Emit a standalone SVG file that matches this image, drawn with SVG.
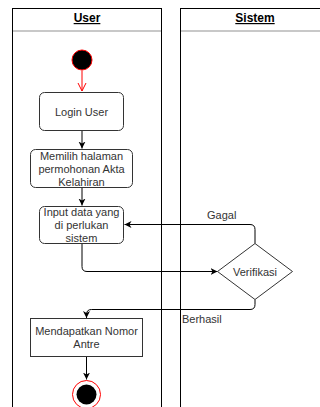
<svg xmlns="http://www.w3.org/2000/svg" width="320" height="407" viewBox="0 0 320 407">
<style>
.lane{fill:#fff;stroke:#000;stroke-width:1}
.hdr{stroke:#c8c8c8;stroke-width:2}
.title{font-family:"Liberation Sans",Arial,sans-serif;font-size:12px;font-weight:bold;fill:#000;text-decoration:underline;text-anchor:middle}
.box{fill:#fff;stroke:#333;stroke-width:1}
.t{font-family:"Liberation Sans",Arial,sans-serif;font-size:11px;fill:#333;text-anchor:middle}
.lbl{font-family:"Liberation Sans",Arial,sans-serif;font-size:11px;fill:#333}
.edge{fill:none;stroke:#000;stroke-width:1}
</style>
<defs>
<marker id="arr" markerWidth="8" markerHeight="8" refX="7" refY="4" orient="auto" markerUnits="userSpaceOnUse">
<path d="M0,0.5 L7,4 L0,7.5 L2,4 Z" fill="#000"/>
</marker>
</defs>
<g id="lane-user">
<rect class="lane" x="12.5" y="8.5" width="149" height="410"/>
<line class="hdr" x1="13" y1="31" x2="161" y2="31"/>
<text class="title" x="87" y="22">User</text>
</g>
<g id="lane-sistem">
<rect class="lane" x="180.5" y="8.5" width="149" height="410"/>
<line class="hdr" x1="181" y1="31" x2="329" y2="31"/>
<text class="title" x="255" y="22">Sistem</text>
</g>
<g id="connectors">
<line x1="82" y1="70.5" x2="82" y2="91" stroke="#f00" stroke-width="1"/>
<path d="M78,83 L82,91 L86,83" fill="none" stroke="#f00" stroke-width="1"/>
<line class="edge" x1="82" y1="130.5" x2="82" y2="148.5" marker-end="url(#arr)"/>
<line class="edge" x1="82" y1="187.5" x2="82" y2="205.5" marker-end="url(#arr)"/>
<path class="edge" d="M255,243.5 L255,229.5 Q255,224.5 250,224.5 L124.5,224.5" marker-end="url(#arr)"/>
<path class="edge" d="M82,243.5 L82,266.5 Q82,271.5 87,271.5 L217.5,271.5" marker-end="url(#arr)"/>
<path class="edge" d="M255,299.5 L255,304.5 Q255,309.5 250,309.5 L91.5,309.5 Q86.5,309.5 86.5,314.5 L86.5,318" marker-end="url(#arr)"/>
<line class="edge" x1="86.5" y1="356.5" x2="86.5" y2="379.5" marker-end="url(#arr)"/>
<text class="lbl" x="207" y="219">Gagal</text>
<text class="lbl" x="182" y="323">Berhasil</text>
</g>
<g id="start">
<circle cx="82" cy="60" r="10" fill="#000" stroke="#f00" stroke-width="1"/>
</g>
<g id="login">
<rect class="box" x="39.5" y="92.5" width="84" height="38" rx="5"/>
<text class="t" x="81.5" y="115.5">Login User</text>
</g>
<g id="memilih">
<rect class="box" x="30.5" y="149.5" width="102" height="38" rx="5"/>
<text class="t" x="81.5" y="159.5">Memilih halaman</text>
<text class="t" x="81.5" y="172.5">permohonan Akta</text>
<text class="t" x="81.5" y="185.5">Kelahiran</text>
</g>
<g id="input">
<rect class="box" x="39.5" y="206.5" width="84" height="37" rx="5"/>
<text class="t" x="81.5" y="215.5">Input data yang</text>
<text class="t" x="81.5" y="228.5">di perlukan</text>
<text class="t" x="81.5" y="241.5">sistem</text>
</g>
<g id="verifikasi">
<polygon class="box" points="255,243.5 292.5,271.5 255,299.5 217.5,271.5"/>
<text class="t" x="255" y="275.5">Verifikasi</text>
</g>
<g id="mendapatkan">
<rect class="box" x="30.5" y="318.5" width="112" height="38"/>
<text class="t" x="86.5" y="334.5">Mendapatkan Nomor</text>
<text class="t" x="86.5" y="347.5">Antre</text>
</g>
<g id="end">
<circle cx="86.5" cy="394.5" r="14" fill="#fff" stroke="#f00" stroke-width="1"/>
<circle cx="86.5" cy="394.5" r="10" fill="#000"/>
</g>
</svg>
